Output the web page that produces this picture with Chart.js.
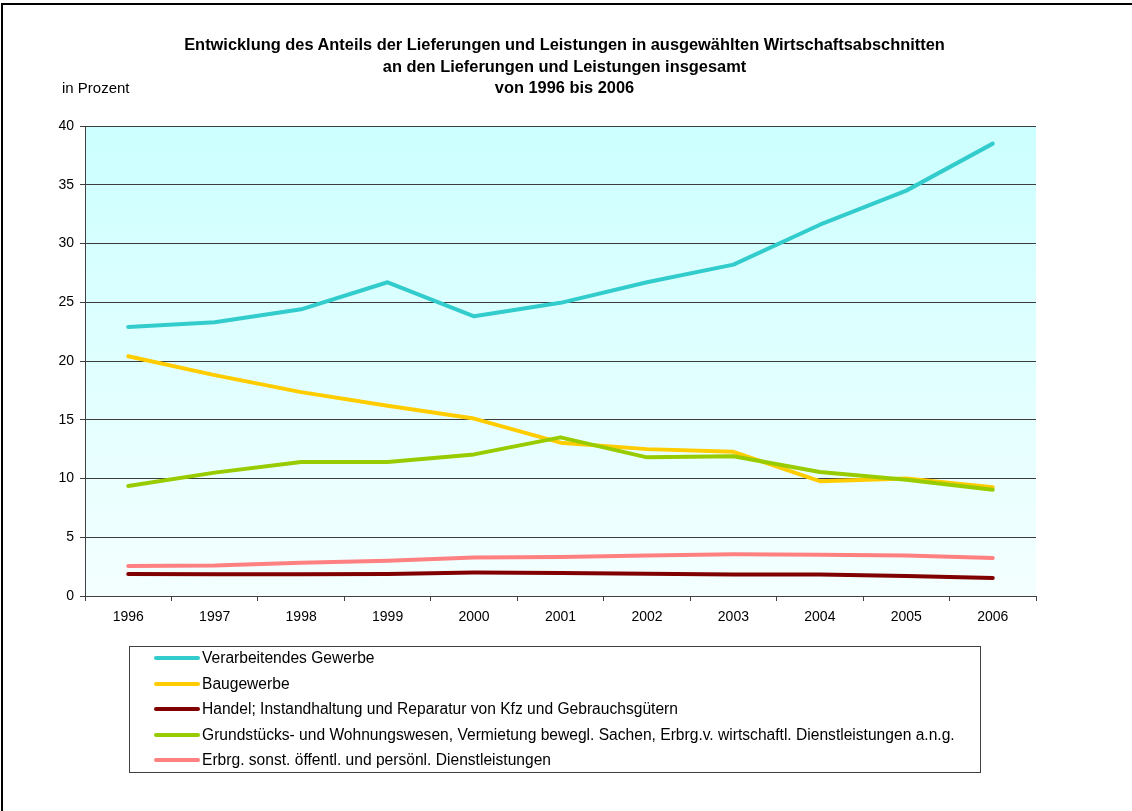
<!DOCTYPE html>
<html lang="de">
<head>
<meta charset="utf-8">
<title>Lieferungen und Leistungen 1996 bis 2006</title>
<script src="https://cdn.jsdelivr.net/npm/chart.js@4.4.1/dist/chart.umd.min.js"></script>
<style>
  html, body { margin: 0; padding: 0; background: #fff; }
  body { width: 1132px; height: 811px; position: relative; overflow: hidden;
         font-family: "Liberation Sans", Arial, sans-serif; color: #000; }
  #frameTop { position: absolute; left: 1px; top: 3px; width: 1131px; height: 2px; background: #000; }
  #frameLeft { position: absolute; left: 1px; top: 3px; width: 2px; height: 808px; background: #000; }
  canvas { position: absolute; left: 0; top: 0; }
  #title { position: absolute; left: 0; top: 34px; width: 1132px; padding-right: 3px; box-sizing: border-box;
           text-align: center; font-weight: bold; font-size: 16.4px; line-height: 21.5px; }
  #unit { position: absolute; left: 62px; top: 79px; font-size: 15px; }
  #legend { position: absolute; left: 129px; top: 646px; width: 852px; height: 127px;
            border: 1px solid #404040; box-sizing: border-box; }
  #legendRows { position: relative; top: -1.5px; }
  .item { height: 25.5px; display: flex; align-items: center; font-size: 15.6px; white-space: nowrap; }
  .swatch { display: inline-block; width: 46px; height: 4px; border-radius: 2px;
            margin-left: 24px; margin-right: 2px; }
</style>
</head>
<body>
<div id="frameTop"></div>
<div id="frameLeft"></div>
<canvas id="lineChart" width="1132" height="811"></canvas>
<div id="title">Entwicklung des Anteils der Lieferungen und Leistungen in ausgewählten Wirtschaftsabschnitten<br>an den Lieferungen und Leistungen insgesamt<br>von 1996 bis 2006</div>
<div id="unit">in Prozent</div>
<div id="legend"><div id="legendRows"></div></div>
<script>
// Jahre
const years = ["1996", "1997", "1998", "1999", "2000", "2001", "2002", "2003", "2004", "2005", "2006"];

// Anteile in Prozent
const verarbeitendesGewerbe = [22.9, 23.3, 24.4, 26.7, 23.8, 24.95, 26.7, 28.2, 31.6, 34.5, 38.5];
const baugewerbe = [20.4, 18.8, 17.35, 16.2, 15.1, 13.05, 12.5, 12.27, 9.77, 10.0, 9.25];
const handel = [1.88, 1.85, 1.85, 1.88, 1.99, 1.96, 1.9, 1.82, 1.82, 1.7, 1.53];
const grundstuecke = [9.37, 10.5, 11.4, 11.4, 12.05, 13.5, 11.8, 11.9, 10.55, 9.9, 9.05];
const dienstleistungen = [2.56, 2.6, 2.84, 3.0, 3.27, 3.32, 3.44, 3.55, 3.52, 3.45, 3.24];

const seriesNames = [
  "Verarbeitendes Gewerbe",
  "Baugewerbe",
  "Handel; Instandhaltung und Reparatur von Kfz und Gebrauchsgütern",
  "Grundstücks- und Wohnungswesen, Vermietung bewegl. Sachen, Erbrg.v. wirtschaftl. Dienstleistungen a.n.g.",
  "Erbrg. sonst. öffentl. und persönl. Dienstleistungen"
];
const seriesValues = [verarbeitendesGewerbe, baugewerbe, handel, grundstuecke, dienstleistungen];
const seriesColors = ["#33CCCC", "#FFCC00", "#800000", "#99CC00", "#FF8080"];

// y-axis ticks 0..40 step 5
const yMin = 0, yMax = 40, yStep = 5;

const fontFamily = "'Liberation Sans', Arial, sans-serif";

// gradient background of the plot area
const plotBackground = {
  id: "plotBackground",
  beforeDraw(chart) {
    const { ctx, chartArea } = chart;
    const g = ctx.createLinearGradient(0, chartArea.top, 0, chartArea.bottom);
    g.addColorStop(0, "#CCFFFF");
    g.addColorStop(1, "#F4FFFF");
    ctx.save();
    ctx.fillStyle = g;
    ctx.fillRect(chartArea.left, chartArea.top, chartArea.right - chartArea.left, chartArea.bottom - chartArea.top);
    ctx.restore();
  }
};

const datasets = seriesNames.map((name, i) => ({
  label: name,
  data: seriesValues[i],
  borderColor: seriesColors[i],
  backgroundColor: seriesColors[i],
  borderWidth: 4,
  borderCapStyle: "round",
  borderJoinStyle: "round",
  pointRadius: 0,
  pointHoverRadius: 0,
  tension: 0,
  fill: false,
  order: seriesNames.length - i   // later series on top, like the original
}));

const chart = new Chart(document.getElementById("lineChart"), {
  type: "line",
  data: { labels: years, datasets: datasets },
  options: {
    responsive: false,
    animation: false,
    devicePixelRatio: 1,
    layout: { padding: { left: 0, top: 126, right: 96, bottom: 0 } },
    plugins: {
      legend: { display: false },
      title: { display: false },
      tooltip: { enabled: false }
    },
    scales: {
      x: {
        offset: true,
        afterFit(scale) { scale.height = 215; },
        grid: { offset: true, drawOnChartArea: false, drawTicks: true, tickLength: 5, color: "#404040" },
        border: { display: true, color: "#404040", width: 1 },
        ticks: { color: "#000", padding: 8, maxRotation: 0, font: { family: fontFamily, size: 14 } }
      },
      y: {
        min: yMin,
        max: yMax,
        afterFit(scale) { scale.width = 85; },
        grid: { color: "#3c3c3c", lineWidth: 1, drawTicks: true, tickLength: 5 },
        border: { display: true, color: "#404040", width: 1 },
        ticks: { stepSize: yStep, color: "#000", padding: 6, font: { family: fontFamily, size: 14 } }
      }
    }
  },
  plugins: [plotBackground]
});

// legend list built from the chart's datasets
const legendRows = document.getElementById("legendRows");
chart.data.datasets.forEach(function (ds) {
  const row = document.createElement("div");
  row.className = "item";
  const sw = document.createElement("span");
  sw.className = "swatch";
  sw.style.background = ds.borderColor;
  const txt = document.createElement("span");
  txt.textContent = ds.label;
  row.appendChild(sw);
  row.appendChild(txt);
  legendRows.appendChild(row);
});
</script>
</body>
</html>
